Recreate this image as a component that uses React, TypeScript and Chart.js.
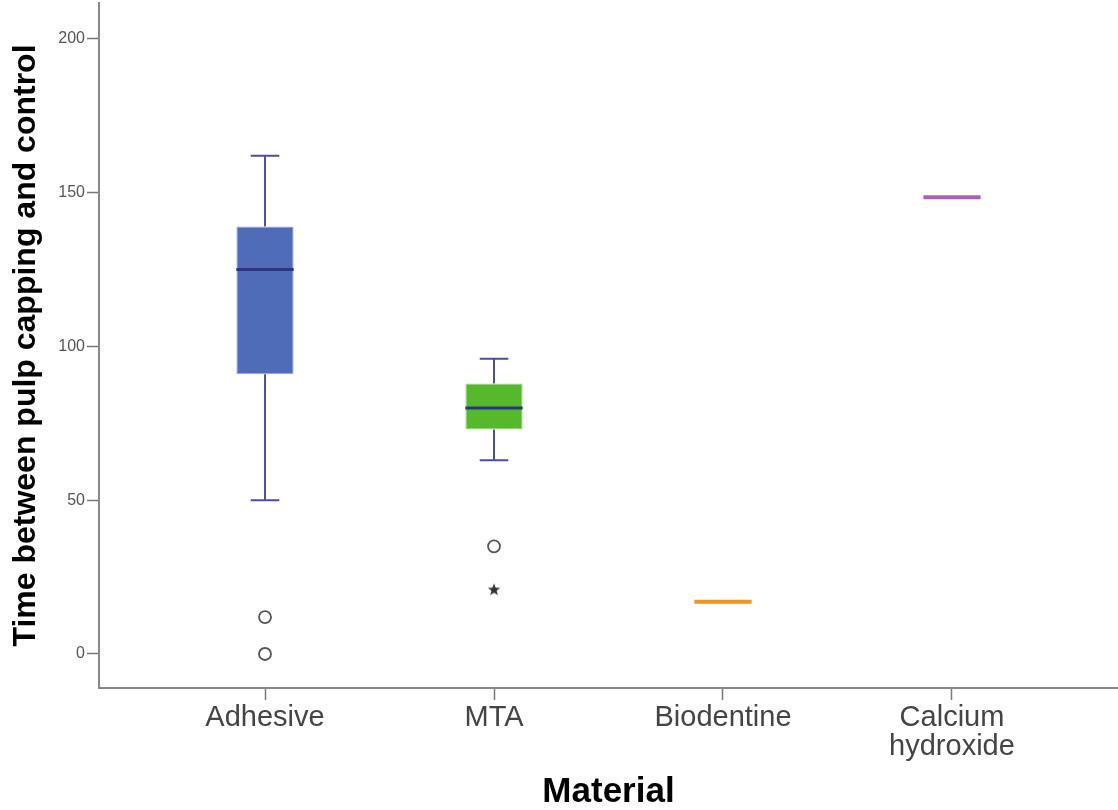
import React, { useEffect, useRef } from "react";
import { Chart, registerables } from "chart.js";

Chart.register(...registerables);

const categories: (string | string[])[] = ["Adhesive", "MTA", "Biodentine", ["Calcium", "hydroxide"]];
const whiskerLow = [50, 63, 17, 148.5];
const q1 = [91, 73, 17, 148.5];
const median = [125, 80, 17, 148.5];
const q3 = [139, 88, 17, 148.5];
const whiskerHigh = [162, 96, 17, 148.5];
const outlierX = [0, 0, 1];
const outlierY = [12, 0, 35];
const extremeX = [1];
const extremeY = [21];
const yTicks = [0, 50, 100, 150, 200];
const boxColors = ["#4e6cb8", "#55b92b", "#f7931e", "#a663b4"];
const boxBorders = ["#9aa9de", "#a4d68a", "#f7931e", "#a663b4"];

const FONT = "'Liberation Sans', Arial, sans-serif";

const boxPlugin = {
  id: "boxWhiskers",
  beforeDatasetsDraw(chart: any) {
    const { ctx, scales } = chart;
    const x = scales.x;
    const y = scales.y;
    const capHalf = x.getPixelForValue(0.0625) - x.getPixelForValue(0);
    ctx.save();
    ctx.strokeStyle = "#4b4f9d";
    ctx.lineWidth = 2;
    categories.forEach((_, i) => {
      if (whiskerHigh[i] === whiskerLow[i]) return;
      const cx = x.getPixelForValue(i);
      const yh = y.getPixelForValue(whiskerHigh[i]);
      const yl = y.getPixelForValue(whiskerLow[i]);
      ctx.beginPath();
      ctx.moveTo(cx, y.getPixelForValue(q3[i]));
      ctx.lineTo(cx, yh);
      ctx.moveTo(cx, y.getPixelForValue(q1[i]));
      ctx.lineTo(cx, yl);
      ctx.moveTo(cx - capHalf, yh);
      ctx.lineTo(cx + capHalf, yh);
      ctx.moveTo(cx - capHalf, yl);
      ctx.lineTo(cx + capHalf, yl);
      ctx.stroke();
    });
    ctx.restore();
  },
  afterDatasetsDraw(chart: any) {
    const { ctx, scales } = chart;
    const x = scales.x;
    const y = scales.y;
    const boxHalf = x.getPixelForValue(0.125) - x.getPixelForValue(0);
    ctx.save();
    categories.forEach((_, i) => {
      const cx = x.getPixelForValue(i);
      const ym = y.getPixelForValue(median[i]);
      const single = q1[i] === q3[i];
      ctx.strokeStyle = single ? boxColors[i] : "#2b3584";
      ctx.lineWidth = single ? 4 : 3;
      ctx.beginPath();
      ctx.moveTo(cx - boxHalf, ym);
      ctx.lineTo(cx + boxHalf, ym);
      ctx.stroke();
    });
    ctx.restore();
  },
};

export default function App() {
  const ref = useRef<HTMLCanvasElement | null>(null);
  useEffect(() => {
    if (!ref.current) return;
    const star = document.createElement("canvas");
    star.width = 14;
    star.height = 14;
    const sc = star.getContext("2d")!;
    sc.fillStyle = "#333";
    sc.beginPath();
    for (let k = 0; k < 10; k++) {
      const r = k % 2 === 0 ? 6.5 : 2.7;
      const a = -Math.PI / 2 + (k * Math.PI) / 5;
      const px = 7 + r * Math.cos(a);
      const py = 7.5 + r * Math.sin(a);
      if (k === 0) sc.moveTo(px, py);
      else sc.lineTo(px, py);
    }
    sc.closePath();
    sc.fill();

    const chart = new Chart(ref.current, {
      type: "bar",
      data: {
        datasets: [
          {
            type: "bar",
            data: categories.map((_, i) => ({ x: i, y: [q1[i], q3[i]] })) as any,
            backgroundColor: boxColors,
            borderColor: boxBorders,
            borderWidth: 1,
            borderSkipped: false,
            categoryPercentage: 0.25,
            barPercentage: 1,
          } as any,
          {
            type: "scatter",
            data: outlierX.map((v, i) => ({ x: v, y: outlierY[i] })),
            pointStyle: "circle",
            pointRadius: 6,
            pointBorderWidth: 1.8,
            pointBorderColor: "#555",
            pointBackgroundColor: "#fff",
          } as any,
          {
            type: "scatter",
            data: extremeX.map((v, i) => ({ x: v, y: extremeY[i] })),
            pointStyle: star,
            pointRadius: 7,
          } as any,
        ],
      },
      options: {
        responsive: false,
        animation: false,
        layout: { autoPadding: false, padding: { top: 3, right: 0, left: 0, bottom: 0 } },
        plugins: { legend: { display: false }, tooltip: { enabled: false } },
        scales: {
          x: {
            type: "linear",
            offset: false,
            min: -0.725,
            max: 3.725,
            afterBuildTicks: (s: any) => {
              s.ticks = categories.map((_, i) => ({ value: i }));
            },
            afterFit: (s: any) => {
              s.height = 122;
              s.paddingLeft = 0;
              s.paddingRight = 0;
            },
            ticks: {
              callback: (v: any) => categories[v as number] as any,
              font: { family: FONT, size: 29, lineHeight: 1 },
              color: "#444",
              padding: 3,
              autoSkip: false,
              maxRotation: 0,
            },
            grid: {
              display: true,
              offset: false,
              drawOnChartArea: false,
              drawTicks: true,
              tickLength: 12,
              tickColor: "#777",
              tickWidth: 1.5,
            },
            border: { display: true, color: "#888", width: 2 },
            title: {
              display: true,
              text: "Material",
              color: "#000",
              font: { family: FONT, size: 35, weight: "bold", lineHeight: 1 },
              padding: { top: 0, bottom: 0 },
            },
          } as any,
          y: {
            type: "linear",
            min: -11.06,
            max: 211.7,
            afterBuildTicks: (s: any) => {
              s.ticks = yTicks.map((v) => ({ value: v }));
            },
            afterFit: (s: any) => {
              s.width = 99;
              s.paddingTop = 0;
              s.paddingBottom = 0;
            },
            ticks: {
              font: { family: FONT, size: 16 },
              color: "#555",
              padding: 2,
            },
            grid: {
              display: true,
              drawOnChartArea: false,
              drawTicks: true,
              tickLength: 12,
              tickColor: "#777",
              tickWidth: 1.5,
            },
            border: { display: true, color: "#888", width: 2 },
            title: {
              display: true,
              text: "Time between pulp capping and control",
              color: "#000",
              font: { family: FONT, size: 32, weight: "bold", lineHeight: 1.2 },
              padding: { top: 7, bottom: 0 },
            },
          } as any,
        },
      },
      plugins: [boxPlugin],
    });
    return () => chart.destroy();
  }, []);

  return (
    <div style={{ position: "absolute", left: 0, top: 0, width: 1118, height: 810, background: "#fff" }}>
      <canvas ref={ref} width={1118} height={810} style={{ display: "block" }} />
    </div>
  );
}
